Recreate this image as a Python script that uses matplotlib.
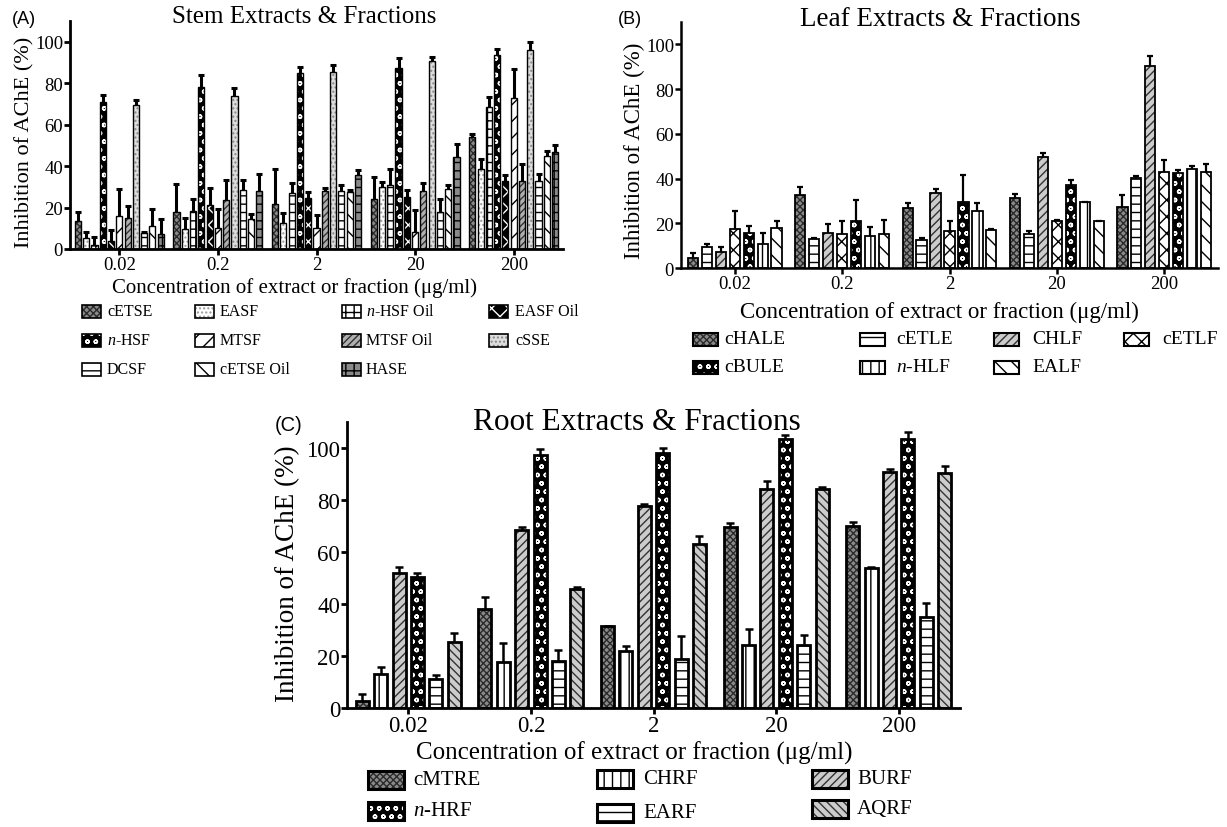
import numpy as np
import matplotlib
matplotlib.use('Agg')
import matplotlib.pyplot as plt
from matplotlib.patches import Rectangle

plt.rcParams['font.family'] = ['Liberation Serif', 'DejaVu Serif']
plt.rcParams['mathtext.fontset'] = 'custom'
plt.rcParams['mathtext.it'] = 'Liberation Serif:italic'
plt.rcParams['mathtext.rm'] = 'Liberation Serif'
plt.rcParams['hatch.linewidth'] = 1.0

concs = ['0.02', '0.2', '2', '20', '200']

# stem extracts & fractions (A)
stem_names = ['cETSE', 'EASF', '$n$-HSF Oil', '$n$-HSF', 'EASF Oil', 'MTSF',
              'MTSF Oil', 'cSSE', 'DCSF', 'cETSE Oil', 'HASE']
stem_means = [[13.4, 17.7, 21.5, 24.2, 54.0],
              [5.5, 9.7, 12.6, 29.8, 38.7],
              [2.0, 18.5, 27.0, 31.0, 68.5],
              [71.0, 78.0, 84.7, 87.4, 93.5],
              [4.0, 21.0, 24.7, 25.0, 33.0],
              [16.0, 10.0, 10.0, 8.0, 73.0],
              [15.0, 23.4, 28.0, 28.0, 32.6],
              [69.7, 74.0, 85.5, 90.6, 96.0],
              [7.6, 28.5, 28.0, 17.7, 32.7],
              [11.0, 14.5, 27.7, 29.0, 45.0],
              [7.3, 28.0, 35.8, 44.4, 46.8]]
stem_errs = [[4.3, 13.8, 17.2, 10.5, 1.6],
             [2.5, 5.1, 4.8, 2.5, 4.8],
             [4.0, 5.5, 4.8, 7.7, 4.9],
             [3.5, 6.0, 3.3, 4.6, 3.0],
             [5.0, 8.5, 3.0, 3.7, 2.5],
             [13.0, 9.4, 6.5, 11.0, 14.0],
             [5.6, 10.1, 1.4, 4.0, 8.2],
             [2.1, 3.7, 3.2, 2.1, 3.7],
             [0.8, 4.9, 3.0, 6.3, 3.6],
             [8.4, 2.5, 1.0, 2.0, 2.3],
             [7.2, 8.0, 2.2, 6.4, 3.5]]
# legend reads row by row in this order
stem_legend_order = [0, 1, 2, 4, 3, 5, 6, 7, 8, 9, 10]

# leaf extracts & fractions (B)
leaf_names = ['cHALE', 'cETLE', 'CHLF', 'cETLF', 'cBULE', '$n$-HLF', 'EALF']
leaf_means = [[4.6, 32.7, 27.0, 31.4, 27.2],
              [9.3, 13.0, 12.7, 15.0, 40.2],
              [7.0, 15.7, 33.5, 49.8, 90.4],
              [17.5, 15.0, 16.7, 20.9, 42.9],
              [15.7, 21.0, 29.3, 37.2, 42.4],
              [10.8, 14.2, 25.3, 29.3, 44.3],
              [17.8, 15.0, 17.0, 20.9, 42.9]]
leaf_errs = [[2.1, 3.5, 2.0, 1.5, 5.5],
             [1.5, 0.4, 0.6, 1.4, 0.8],
             [2.3, 4.0, 1.9, 1.8, 4.5],
             [7.8, 6.0, 4.5, 0.6, 5.2],
             [3.3, 9.2, 12.1, 2.0, 1.5],
             [4.7, 4.3, 3.8, 0.4, 1.1],
             [3.4, 6.5, 0.5, 0.3, 3.7]]

# root extracts & fractions (C)
root_names = ['cMTRE', 'CHRF', 'BURF', '$n$-HRF', 'EARF', 'AQRF']
root_means = [[2.6, 37.9, 31.4, 69.5, 70.1],
              [13.1, 17.7, 21.8, 24.4, 53.7],
              [51.8, 68.6, 77.6, 84.4, 90.7],
              [50.5, 97.2, 98.2, 103.6, 103.6],
              [11.2, 17.9, 18.7, 24.1, 35.0],
              [25.4, 45.6, 63.1, 84.3, 90.5]]
root_errs = [[2.8, 4.9, 0.2, 1.6, 1.4],
             [2.6, 7.4, 1.9, 5.9, 0.4],
             [2.3, 0.9, 1.0, 2.8, 1.1],
             [1.3, 2.5, 1.9, 1.3, 2.6],
             [1.6, 4.3, 8.9, 3.9, 5.2],
             [3.6, 1.0, 3.1, 0.7, 2.5]]

# (face, hatch colour, hatch)
stem_styles = [('#8a8a8a', '#2a2a2a', 'xxxxx'), ('white', '#999999', '....'),
               ('white', 'black', '++'), ('black', 'white', 'oo'),
               ('black', 'white', 'xx'), ('white', 'black', '//'),
               ('#b0b0b0', '#333333', '/////'), ('#dddddd', '#888888', '....'),
               ('white', 'black', '--'), ('white', 'black', '\\\\'),
               ('#8a8a8a', 'black', '++')]
leaf_styles = [('#8a8a8a', '#2a2a2a', 'xxxxx'), ('white', 'black', '--'),
               ('#cccccc', '#333333', '////'), ('white', 'black', 'XX'),
               ('black', 'white', 'oo'), ('white', 'black', '||'),
               ('white', 'black', '\\\\')]
root_styles = [('#8a8a8a', '#2a2a2a', 'xxxxx'), ('white', 'black', '||'),
               ('#cccccc', '#333333', '////'), ('black', 'white', 'oo'),
               ('white', 'black', '--'), ('#cccccc', '#333333', '\\\\\\\\')]

W, H = 1227, 828
fig = plt.figure(figsize=(W / 100, H / 100), dpi=100)


def px_axes(l, t, r, b):
    return fig.add_axes([l / W, 1 - b / H, (r - l) / W, (b - t) / H])


def draw_panel(ax, means, errs, styles, pitch, width, lw, elw, cap, tfs, spine_lw):
    x = np.arange(len(concs))
    n = len(means)
    for i in range(n):
        off = (i - (n - 1) / 2) * pitch
        face, hc, h = styles[i]
        m = np.array(means[i])
        e = np.array(errs[i])
        ax.bar(x + off, m, width, color=face, edgecolor=hc, hatch=h, lw=0, zorder=2)
        ax.bar(x + off, m, width, fill=False, edgecolor='black', lw=lw, zorder=3)
        ax.vlines(x + off, m, m + e, color='black', lw=elw, zorder=4)
        ax.plot(x + off, m + e, ls='none', marker='_', ms=cap, mew=elw, color='black', zorder=4)
    ax.set_xlim(-0.5, 4.5)
    ax.set_ylim(0, 110)
    ax.set_yticks([0, 20, 40, 60, 80, 100])
    ax.set_xticks(x)
    ax.set_xticklabels(concs)
    ax.spines['top'].set_visible(False)
    ax.spines['right'].set_visible(False)
    ax.spines['left'].set_linewidth(spine_lw)
    ax.spines['bottom'].set_linewidth(spine_lw)
    ax.tick_params(labelsize=tfs, width=spine_lw, length=4, pad=1)


def legend_item(x, y, w, h, style, label, fs, tx, lw):
    face, hc, hatch = style
    r1 = Rectangle((x / W, 1 - (y + h / 2) / H), w / W, h / H, transform=fig.transFigure,
                   facecolor=face, edgecolor=hc, hatch=hatch, lw=0)
    r2 = Rectangle((x / W, 1 - (y + h / 2) / H), w / W, h / H, transform=fig.transFigure,
                   fill=False, edgecolor='black', lw=lw)
    fig.add_artist(r1)
    fig.add_artist(r2)
    fig.text(tx / W, 1 - y / H, label, fontsize=fs, va='center', ha='left')


# panel A
axA = px_axes(70, 22, 563, 250)
draw_panel(axA, stem_means, stem_errs, stem_styles, 0.084, 0.062, 1.0, 2.2, 4, 13.5, 2)
axA.set_ylabel('Inhibition of AChE (%)', fontsize=16)
axA.yaxis.set_label_coords(-0.073, 0.47)
fig.text(304 / W, 1 - 17 / H, 'Stem Extracts & Fractions', fontsize=18, ha='center', va='center')
fig.text(12 / W, 1 - 20 / H, '(A)', fontsize=13, family=['Liberation Sans'], va='center')
fig.text(294 / W, 1 - 288 / H, 'Concentration of extract or fraction (\u03bcg/ml)',
         fontsize=15, ha='center', va='center')
a_px = [82, 195, 342, 489]
a_tx = [107, 220, 366, 515]
a_rows = [312, 341, 370]
for slot, k in enumerate(stem_legend_order):
    row, col = slot // 4, slot % 4
    legend_item(a_px[col], a_rows[row], 19, 13, stem_styles[k], stem_names[k], 11.5, a_tx[col], 1.2)

# panel B
axB = px_axes(681, 23, 1218, 269)
draw_panel(axB, leaf_means, leaf_errs, leaf_styles, 0.13, 0.095, 1.3, 1.6, 4, 13.5, 1.8)
axB.set_ylabel('Inhibition of AChE (%)', fontsize=16.5)
axB.yaxis.set_label_coords(-0.067, 0.48)
fig.text(940 / W, 1 - 19 / H, 'Leaf Extracts & Fractions', fontsize=19.5, ha='center', va='center')
fig.text(618 / W, 1 - 20 / H, '(B)', fontsize=13, family=['Liberation Sans'], va='center')
fig.text(939 / W, 1 - 312 / H, 'Concentration of extract or fraction (\u03bcg/ml)',
         fontsize=16.5, ha='center', va='center')
b_px = [693, 860, 994, 1124]
b_tx = [724, 896, 1032, 1162]
b_rows = [340, 368]
for k in range(len(leaf_names)):
    row, col = k // 4, k % 4
    legend_item(b_px[col], b_rows[row], 25, 13, leaf_styles[k], leaf_names[k], 14, b_tx[col], 1.5)

# panel C
axC = px_axes(347, 423, 960, 709)
draw_panel(axC, root_means, root_errs, root_styles, 0.15, 0.107, 2.0, 1.8, 6, 16.5, 2)
axC.set_ylabel('Inhibition of AChE (%)', fontsize=19.5)
axC.yaxis.set_label_coords(-0.077, 0.472)
fig.text(637 / W, 1 - 422 / H, 'Root Extracts & Fractions', fontsize=22.5, ha='center', va='center')
fig.text(275 / W, 1 - 426 / H, '(C)', fontsize=14.5, family=['Liberation Sans'], va='center')
fig.text(634 / W, 1 - 753 / H, 'Concentration of extract or fraction (\u03bcg/ml)',
         fontsize=18, ha='center', va='center')
c_px = [368, 597, 812]
c_tx = [413, 643, 857]
c_rows = [[781, 780, 780], [812, 814, 810]]
for k in range(len(root_names)):
    row, col = k // 3, k % 3
    legend_item(c_px[col], c_rows[row][col], 36, 18, root_styles[k], root_names[k], 15, c_tx[col], 2.2)

fig.savefig('out.png', dpi=100)
